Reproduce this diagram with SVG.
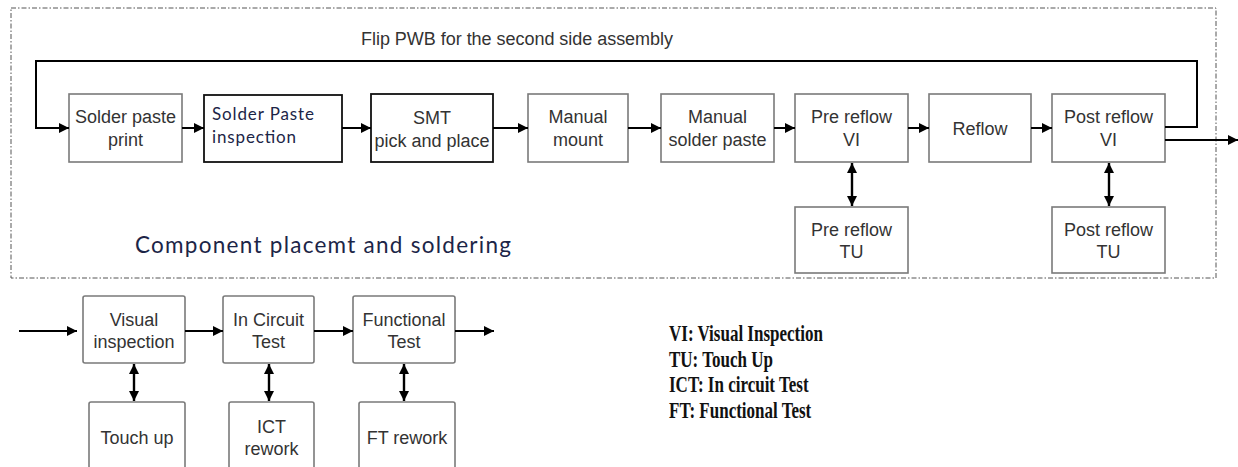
<svg xmlns="http://www.w3.org/2000/svg" width="1238" height="467" viewBox="0 0 1238 467">
<defs>
<marker id="ah" viewBox="0 0 10 10" refX="10" refY="5" markerWidth="10" markerHeight="10" markerUnits="userSpaceOnUse" orient="auto-start-reverse">
<path d="M0,0 L10,5 L0,10 z" fill="#000"/>
</marker>
<style>
.box{fill:#fff;stroke:#7a7a7a;stroke-width:1.6}
.boxk{fill:#fff;stroke:#111;stroke-width:1.8}
.t{font-family:"Liberation Sans",Arial,sans-serif;font-size:18px;fill:#333;text-anchor:middle}
.c{font-family:Lato,"Open Sans",sans-serif;fill:#1c2547}
.lg{font-family:"Liberation Serif","Times New Roman",serif;font-weight:bold;font-size:17px;fill:#111}
.ln{fill:none;stroke:#000;stroke-width:2}
.la{fill:none;stroke:#000;stroke-width:2;marker-end:url(#ah)}
.lb{fill:none;stroke:#000;stroke-width:2.4;marker-end:url(#ah);marker-start:url(#ah)}
</style>
</defs>
<rect width="1238" height="467" fill="#fff"/>
<rect id="frame" x="11" y="8" width="1205" height="270" fill="none" stroke="#555" stroke-width="1" stroke-dasharray="5,2,1.5,2"/>
<text x="361" y="45" class="t" style="text-anchor:start" textLength="312">Flip PWB for the second side assembly</text>
<text x="135" y="253" class="c" font-size="22.5" textLength="376">Component placemt and soldering</text>

<g id="n1"><rect class="box" x="69" y="94" width="113" height="68"/><text class="t" x="125.5" y="123">Solder paste</text><text class="t" x="125.5" y="146">print</text></g>
<g id="n2"><rect class="boxk" x="204" y="95" width="138" height="67"/><text class="c" font-size="17" x="212" y="120" textLength="102">Solder Paste</text><text class="c" font-size="17" x="212" y="143" textLength="84">inspection</text></g>
<g id="n3"><rect class="boxk" x="371" y="94" width="122" height="68"/><text class="t" x="432" y="124">SMT</text><text class="t" x="432" y="147">pick and place</text></g>
<g id="n4"><rect class="box" x="528" y="94" width="100" height="68"/><text class="t" x="578" y="123">Manual</text><text class="t" x="578" y="146">mount</text></g>
<g id="n5"><rect class="box" x="661" y="94" width="113" height="68"/><text class="t" x="717.5" y="123">Manual</text><text class="t" x="717.5" y="146">solder paste</text></g>
<g id="n6"><rect class="box" x="795" y="94" width="113" height="68"/><text class="t" x="851.5" y="123">Pre reflow</text><text class="t" x="851.5" y="146">VI</text></g>
<g id="n7"><rect class="box" x="929" y="94" width="102" height="68"/><text class="t" x="980" y="135">Reflow</text></g>
<g id="n8"><rect class="box" x="1052" y="94" width="113" height="68"/><text class="t" x="1108.5" y="123">Post reflow</text><text class="t" x="1108.5" y="146">VI</text></g>
<g id="n9"><rect class="box" x="795" y="207" width="113" height="66"/><text class="t" x="851.5" y="236">Pre reflow</text><text class="t" x="851.5" y="258">TU</text></g>
<g id="n10"><rect class="box" x="1052" y="207" width="113" height="66"/><text class="t" x="1108.5" y="236">Post reflow</text><text class="t" x="1108.5" y="258">TU</text></g>

<g id="n11"><rect class="box" x="83" y="296" width="102" height="67" rx="2"/><text class="t" x="134" y="326">Visual</text><text class="t" x="134" y="348">inspection</text></g>
<g id="n12"><rect class="box" x="223" y="296" width="91" height="67" rx="2"/><text class="t" x="268.5" y="326">In Circuit</text><text class="t" x="268.5" y="348">Test</text></g>
<g id="n13"><rect class="box" x="353" y="296" width="102" height="67" rx="2"/><text class="t" x="404" y="326">Functional</text><text class="t" x="404" y="348">Test</text></g>
<g id="n14"><rect class="box" x="89" y="402" width="96" height="80" rx="2"/><text class="t" x="137" y="444">Touch up</text></g>
<g id="n15"><rect class="box" x="229" y="402" width="85" height="80" rx="2"/><text class="t" x="271.5" y="433">ICT</text><text class="t" x="271.5" y="455">rework</text></g>
<g id="n16"><rect class="box" x="359" y="402" width="96" height="80" rx="2"/><text class="t" x="407" y="444">FT rework</text></g>

<g id="legend" transform="translate(669,0) scale(1,1.3)">
<text class="lg" x="0" y="262.3">VI: Visual Inspection</text>
<text class="lg" x="0" y="282.2">TU: Touch Up</text>
<text class="lg" x="0" y="301.5">ICT: In circuit Test</text>
<text class="lg" x="0" y="321.5">FT: Functional Test</text>
</g>

<g id="connectors">
<path class="la" d="M1165,127 H1197 V61 H36 V128 H69"/>
<path class="la" d="M182,128 H204"/>
<path class="la" d="M342,128 H371"/>
<path class="la" d="M493,128 H528"/>
<path class="la" d="M628,128 H661"/>
<path class="la" d="M774,128 H795"/>
<path class="la" d="M908,128 H929"/>
<path class="la" d="M1031,128 H1052"/>
<path class="la" d="M1165,140 H1238"/>
<path class="lb" d="M852,163 V206"/>
<path class="lb" d="M1109,163 V206"/>
<path class="la" d="M19,331 H77"/>
<path class="la" d="M185,331 H223"/>
<path class="la" d="M314,331 H353"/>
<path class="la" d="M455,331 H494"/>
<path class="lb" d="M134,364 V401"/>
<path class="lb" d="M269,364 V401"/>
<path class="lb" d="M404,364 V401"/>
</g>
</svg>
